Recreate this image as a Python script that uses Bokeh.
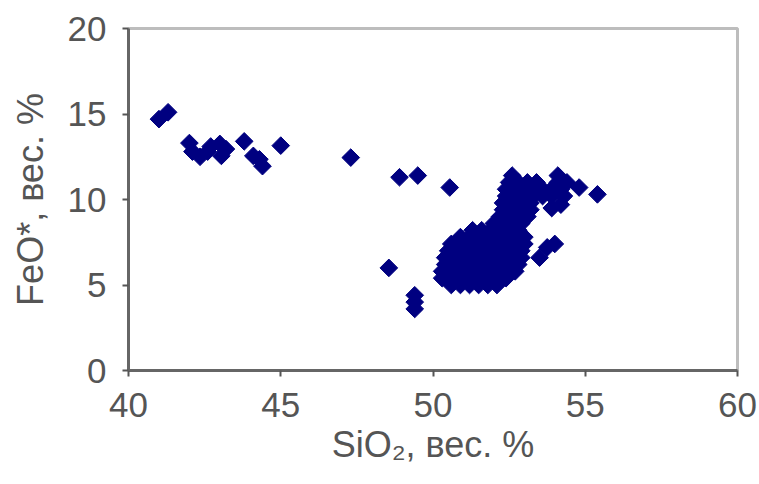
import numpy as np
from bokeh.plotting import figure
from bokeh.models import ColumnDataSource, Range1d, FixedTicker
from bokeh.embed import file_html
from bokeh.resources import INLINE

# ---- data (SiO2 wt.% vs FeO* wt.%) ----
sio2_left = [41.0, 41.3, 42.0, 42.1, 42.35, 42.6, 42.7, 43.0, 43.05, 43.2, 43.8, 44.1, 44.3, 44.4, 45.0,
             47.3, 48.9, 49.5, 50.55, 48.55, 49.4, 49.4, 49.4]
feo_left = [14.7, 15.1, 13.3, 12.8, 12.5, 12.8, 13.1, 13.25, 12.55, 12.95, 13.4, 12.55, 12.35, 11.95, 13.15,
            12.45, 11.3, 11.4, 10.7, 6.0, 4.4, 4.0, 3.6]

sio2_blob = [50.6, 50.9, 51.2, 51.5, 51.8, 52.1,
             50.3, 50.6, 50.9, 51.2, 51.5, 51.8, 52.1, 52.4,
             50.3, 50.6, 50.9, 51.2, 51.5, 51.8, 52.1, 52.4, 52.7,
             50.4, 50.7, 51.0, 51.3, 51.6, 51.9, 52.2, 52.5, 52.8,
             50.4, 50.7, 51.0, 51.3, 51.6, 51.9, 52.2, 52.5, 52.9,
             50.5, 50.8, 51.1, 51.4, 51.7, 52.0, 52.3, 52.6, 52.9,
             50.6, 50.9, 51.2, 51.5, 51.8, 52.1, 52.4, 52.7, 53.0,
             50.9, 51.2, 51.5, 51.8, 52.1, 52.4, 52.7, 53.0,
             51.3, 51.6, 51.9, 52.2, 52.5, 52.8,
             52.0, 52.3, 52.6, 52.9,
             52.2, 52.5, 52.8, 53.1,
             52.3, 52.6, 52.9, 53.2,
             52.3, 52.6, 52.9, 53.2, 53.9, 54.2,
             52.4, 52.7, 53.0, 53.3, 53.6, 53.9, 54.3,
             52.4, 52.7, 53.0, 53.3, 53.6, 53.9, 54.2, 54.8,
             52.5, 52.8, 53.1, 53.4, 54.1, 54.4,
             52.6, 54.1,
             53.75, 53.5, 54.0, 55.4]
feo_blob = [5.0, 5.0, 5.0, 5.0, 5.0, 5.0,
            5.4, 5.4, 5.4, 5.4, 5.4, 5.4, 5.4, 5.4,
            5.8, 5.8, 5.8, 5.8, 5.8, 5.8, 5.8, 5.8, 5.8,
            6.2, 6.2, 6.2, 6.2, 6.2, 6.2, 6.2, 6.2, 6.2,
            6.6, 6.6, 6.6, 6.6, 6.6, 6.6, 6.6, 6.6, 6.6,
            7.0, 7.0, 7.0, 7.0, 7.0, 7.0, 7.0, 7.0, 7.0,
            7.4, 7.4, 7.4, 7.4, 7.4, 7.4, 7.4, 7.4, 7.4,
            7.8, 7.8, 7.8, 7.8, 7.8, 7.8, 7.8, 7.8,
            8.2, 8.2, 8.2, 8.2, 8.2, 8.2,
            8.6, 8.6, 8.6, 8.6,
            9.0, 9.0, 9.0, 9.0,
            9.4, 9.4, 9.4, 9.4,
            9.8, 9.8, 9.8, 9.8, 9.5, 9.7,
            10.2, 10.2, 10.2, 10.2, 10.2, 10.2, 10.2,
            10.6, 10.6, 10.6, 10.6, 10.6, 10.6, 10.6, 10.7,
            11.0, 11.0, 11.0, 11.0, 11.0, 11.0,
            11.4, 11.4,
            7.2, 6.6, 7.4, 10.3]

x_ticks = [40, 45, 50, 55, 60]
y_ticks = [0, 5, 10, 15, 20]

sio2 = sio2_left + sio2_blob
feo = feo_left + feo_blob
src = ColumnDataSource(dict(x=sio2, y=feo))

p = figure(width=759, height=484, output_backend="svg", toolbar_location=None,
           x_range=Range1d(40, 60), y_range=Range1d(0, 20),
           min_border_left=128, min_border_right=22, min_border_top=28, min_border_bottom=114)
p.background_fill_color = "white"
p.border_fill_color = "white"
p.outline_line_color = "#bdbdbd"
p.outline_line_width = 3
p.xgrid.visible = False
p.ygrid.visible = False

p.scatter("x", "y", source=src, marker="square", size=12.5, angle=np.pi / 4,
          fill_color="#000080", line_color="#000080")

FONT = "Liberation Sans"
for ax, ticks in ((p.xaxis[0], x_ticks), (p.yaxis[0], y_ticks)):
    ax.ticker = FixedTicker(ticks=ticks)
    ax.minor_tick_line_color = None
    ax.major_tick_in = 0
    ax.major_tick_out = 6
    ax.major_tick_line_color = "#555555"
    ax.major_tick_line_width = 2
    ax.axis_line_color = "#666666"
    ax.axis_line_width = 3
    ax.major_label_text_font = FONT
    ax.major_label_text_font_size = "35px"
    ax.major_label_text_color = "#555555"
    ax.axis_label_text_font = FONT
    ax.axis_label_text_font_size = "36px"
    ax.axis_label_text_font_style = "normal"
    ax.axis_label_text_color = "#555555"

p.xaxis[0].axis_label = "SiO₂, вес. %"
p.yaxis[0].axis_label = "FeO*, вес. %"
p.xaxis[0].major_label_standoff = 16
p.yaxis[0].major_label_standoff = 16
p.xaxis[0].axis_label_standoff = 4
p.yaxis[0].axis_label_standoff = 14

open("out.html", "w").write(file_html(p, INLINE))
